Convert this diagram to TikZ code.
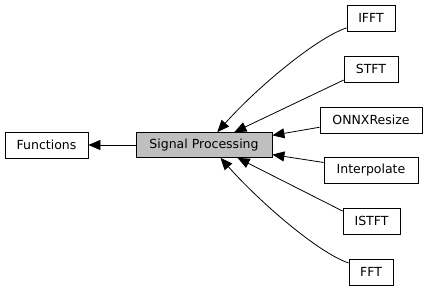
\documentclass[tikz,border=0pt]{standalone}
\usepackage{fontspec}
\setmainfont{DejaVu Sans}
\usetikzlibrary{arrows.meta}
\begin{document}
\begin{tikzpicture}[x=1pt,y=-1pt,
  box/.style={draw=black,line width=0.8pt,fill=white,inner sep=0pt,
    minimum height=26pt,font=\fontsize{12.5}{15}\selectfont},
  current/.style={box,fill=black!25},
  link/.style={line width=0.8pt,-{Triangle[length=12pt,width=10pt]}}]
\useasboundingbox (0,0) rectangle (428,291);
% groups
\node[box,minimum width=83pt] (functions) at (46.5,145) {Functions};
\node[current,minimum width=136pt,minimum height=25pt] (sp) at (204,145) {Signal Processing};
\node[box,minimum width=48pt] (ifft) at (371,18) {IFFT};
\node[box,minimum width=54pt] (stft) at (371,69) {STFT};
\node[box,minimum width=102pt] (onnx) at (371,120) {ONNXResize};
\node[box,minimum width=94pt] (interp) at (371,170) {Interpolate};
\node[box,minimum width=57pt] (istft) at (371.5,221) {ISTFT};
\node[box,minimum width=44pt] (fft) at (371,272) {FFT};
% membership edges
\draw[link] (sp.west) -- (functions.east);
\draw[link] (ifft.202) .. controls +(-30,10) and +(40,-45) .. (sp.44);
\draw[link] (stft.202) -- (sp.23);
\draw[link] (onnx.188) -- (sp.8);
\draw[link] (interp.171) -- (sp.352);
\draw[link] (istft.161) -- (sp.339);
\draw[link] (fft.158) .. controls +(-30,-10) and +(40,45) .. (sp.322);
\end{tikzpicture}
\end{document}
